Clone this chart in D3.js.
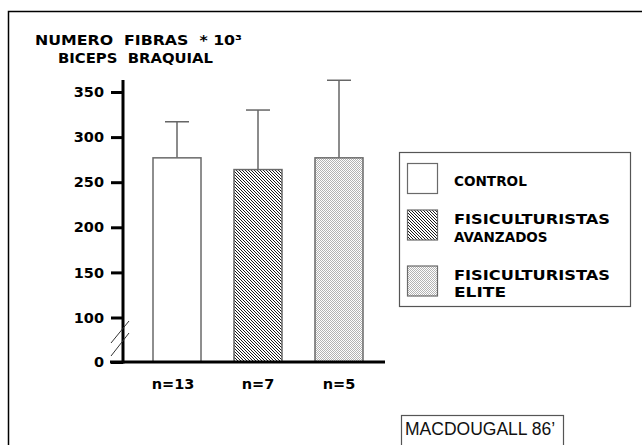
<!DOCTYPE html>
<html><head><meta charset="utf-8">
<script src="https://cdn.jsdelivr.net/npm/d3@7"></script>
<style>body{margin:0;background:#fff}svg{display:block}</style>
</head><body>
<script>
const groups = ["n=13", "n=7", "n=5"];
const means = [277, 264, 277];
const errors = [40, 66, 86];
const patterns = ["none", "hatch", "dots"];
const tickValues = [0, 100, 150, 200, 250, 300, 350];
const legendLabels = [["CONTROL"], ["FISICULTURISTAS", "AVANZADOS"], ["FISICULTURISTAS", "ELITE"]];
const titleLines = ["NUMERO  FIBRAS  * 10³", "BICEPS  BRAQUIAL"];
const sourceLabel = "MACDOUGALL 86’";

const W = 642, H = 445;
const font = "'DejaVu Sans', sans-serif";
const svg = d3.select("body").append("svg").attr("width", W).attr("height", H);
const defs = svg.append("defs");

const hatch = defs.append("pattern").attr("id", "hatch").attr("patternUnits", "userSpaceOnUse")
  .attr("width", 3).attr("height", 3);
hatch.append("rect").attr("width", 3).attr("height", 3).attr("fill", "#fff");
hatch.append("path").attr("d", "M0,0 L3,3 M-1,2 L1,4 M2,-1 L4,1").attr("stroke", "#000").attr("stroke-width", 0.9);

const dots = defs.append("pattern").attr("id", "dots").attr("patternUnits", "userSpaceOnUse")
  .attr("width", 2).attr("height", 2);
dots.append("rect").attr("width", 2).attr("height", 2).attr("fill", "#fff");
dots.append("rect").attr("width", 1).attr("height", 1).attr("fill", "#b4b4b4");
dots.append("rect").attr("x", 1).attr("y", 1).attr("width", 1).attr("height", 1).attr("fill", "#b4b4b4");

const fillFor = p => p === "none" ? "#fff" : `url(#${p})`;

// outer frame
svg.append("rect").attr("x", 8.5).attr("y", 11.5).attr("width", 640).attr("height", 440)
  .attr("fill", "none").attr("stroke", "#000").attr("stroke-width", 1.5);

// title
const titleX = [35, 58], titleY = [45, 63], titleLen = [207, 155];
titleLines.forEach((t, i) => {
  svg.append("text").attr("x", titleX[i]).attr("y", titleY[i]).text(t)
    .attr("font-family", font).attr("font-weight", "bold").attr("font-size", 13.5)
    .attr("textLength", titleLen[i]).attr("lengthAdjust", "spacingAndGlyphs")
    .style("white-space", "pre");
});

// scales (broken axis: 0 sits one step below 100)
const y = d3.scaleLinear().domain([0, 100, 350]).range([362, 317.5, 92]);
const x = d3.scalePoint().domain(groups).range([177, 339]);
const barW = 48;

// bars
const g = svg.append("g");
groups.forEach((grp, i) => {
  const cx = x(grp);
  g.append("line").attr("x1", cx).attr("x2", cx).attr("y1", y(means[i])).attr("y2", y(means[i] + errors[i]))
    .attr("stroke", "#666").attr("stroke-width", 1.5);
  g.append("line").attr("x1", cx - 12).attr("x2", cx + 12).attr("y1", y(means[i] + errors[i])).attr("y2", y(means[i] + errors[i]))
    .attr("stroke", "#666").attr("stroke-width", 1.5);
  g.append("rect").attr("x", cx - barW / 2).attr("y", y(means[i])).attr("width", barW)
    .attr("height", y(0) - y(means[i])).attr("fill", fillFor(patterns[i]))
    .attr("stroke", "#6a6a6a").attr("stroke-width", 1.5);
  g.append("text").attr("x", cx - (i === 0 ? 4 : 0)).attr("y", 389).attr("text-anchor", "middle")
    .attr("font-family", font).attr("font-weight", "bold").attr("font-size", 14.5).text(grp);
});

// y axis
const axisX = 123;
const yAxis = d3.axisLeft(y).tickValues(tickValues).tickSize(12).tickPadding(7).tickFormat(d3.format("d"));
const ax = svg.append("g").attr("transform", `translate(${axisX},0)`).call(yAxis);
ax.select(".domain").remove();
ax.selectAll(".tick line").attr("stroke", "#000").attr("stroke-width", 3);
ax.selectAll(".tick text").attr("font-family", font).attr("font-weight", "bold").attr("font-size", 14.5).attr("fill", "#000");
svg.append("line").attr("x1", axisX).attr("x2", axisX).attr("y1", 80).attr("y2", y(0) + 1.5)
  .attr("stroke", "#000").attr("stroke-width", 3);
// baseline
svg.append("line").attr("x1", 110).attr("x2", 385).attr("y1", y(0)).attr("y2", y(0))
  .attr("stroke", "#000").attr("stroke-width", 3);
// break marks
[[343, 321], [356, 333]].forEach(([a, b]) => {
  svg.append("line").attr("x1", 111).attr("y1", a).attr("x2", 129).attr("y2", b)
    .attr("stroke", "#333").attr("stroke-width", 1);
});

// legend
svg.append("rect").attr("x", 399.5).attr("y", 152.5).attr("width", 231).attr("height", 154)
  .attr("fill", "#fff").attr("stroke", "#555").attr("stroke-width", 1.2);
const swY = [163.5, 210, 266];
const txtY = [[186], [224, 242], [280, 297]];
legendLabels.forEach((lines, i) => {
  svg.append("rect").attr("x", 407.5).attr("y", swY[i]).attr("width", 30).attr("height", 30)
    .attr("fill", fillFor(patterns[i])).attr("stroke", "#6a6a6a").attr("stroke-width", 1.2);
  lines.forEach((t, j) => {
    svg.append("text").attr("x", 454).attr("y", txtY[i][j]).text(t)
      .attr("font-family", font).attr("font-weight", "bold").attr("font-size", 13.5)
      .attr("textLength", t.length * 10.4).attr("lengthAdjust", "spacingAndGlyphs");
  });
});

// source box
svg.append("rect").attr("x", 401.5).attr("y", 415.5).attr("width", 162).attr("height", 40)
  .attr("fill", "#fff").attr("stroke", "#555").attr("stroke-width", 1.2);
svg.append("text").attr("x", 405).attr("y", 435).text(sourceLabel)
  .attr("font-family", "'Liberation Sans', Arial, sans-serif").attr("font-size", 17.5).attr("fill", "#111");
</script>
</body></html>
